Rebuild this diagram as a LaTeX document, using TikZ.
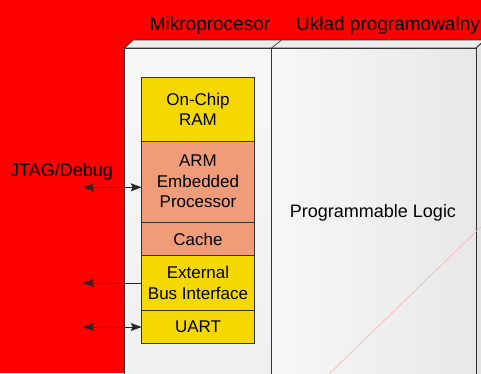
\documentclass[tikz,border=0pt]{standalone}
\usepackage{fontspec}
\setmainfont{Liberation Sans}
\usetikzlibrary{arrows.meta}
\definecolor{bgred}{HTML}{FF0000}
\definecolor{blkyellow}{HTML}{F5D800}
\definecolor{blksalmon}{HTML}{F09C78}
\definecolor{edge}{HTML}{333333}
\tikzset{
  blk/.style={draw=edge, line width=0.8pt, anchor=north west, minimum width=112.6pt,
    inner sep=0pt, outer sep=0pt, align=center,
    font=\fontsize{17}{20.5}\selectfont},
  hdr/.style={anchor=base, inner sep=0pt, font=\fontsize{19}{22}\selectfont},
  lbl/.style={anchor=base, inner sep=0pt, font=\fontsize{18}{21}\selectfont},
  conn/.style={draw=black!85, line width=0.9pt},
  bigtip/.tip={Stealth[length=11pt, width=8pt, inset=2pt]}
}
\begin{document}
\begin{tikzpicture}[x=1pt,y=-1pt]
\useasboundingbox (0,0) rectangle (481,373);
\clip (0,0) rectangle (481,373);
\fill[bgred] (0,0) rectangle (481,373);
% top face
\fill[gray!15, draw=edge, line width=0.7pt] (124.5,48) -- (133.5,40) -- (495,40) -- (485,48) -- cycle;
% right side face
\fill[gray!22, draw=edge, line width=0.7pt] (476,48) -- (486,39) -- (486,380) -- (476,380) -- cycle;
% front faces
\shade[top color=white!97!black, bottom color=white!94!black, draw=edge, line width=0.7pt]
  (124.5,48) rectangle (271.5,380);
\shade[left color=white!97!black, right color=white!91!black, draw=edge, line width=0.7pt]
  (271.5,48) rectangle (476,380);
\draw[edge, line width=0.7pt] (271.5,48) -- (281.5,40);
\draw[edge, line width=0.7pt] (476,48) -- (486,39);
\draw[red!35, line width=0.5pt] (486,222) -- (330,373);
% headers
\node[hdr] (mp) at (210,30) {Mikroprocesor};
\node[hdr] (up) at (388,30) {Układ programowalny};
\node[lbl] (pl) at (373,217) {Programmable Logic};
\node[lbl] (jtag) at (61.5,176.5) {JTAG/Debug};
% blocks
\node[blk, fill=blkyellow, minimum height=63.3pt] (ram) at (141.7,77.7) {On-Chip\\RAM};
\node[blk, fill=blksalmon, minimum height=81.3pt] (arm) at (141.7,141) {ARM\\Embedded\\Processor};
\node[blk, fill=blksalmon, minimum height=33.4pt] (cache) at (141.7,222.3) {Cache};
\node[blk, fill=blkyellow, minimum height=54.6pt] (ebi) at (141.7,255.7) {External\\Bus Interface};
\node[blk, fill=blkyellow, minimum height=33pt] (uart) at (141.7,310.3) {UART};
% connectors
\coordinate (jt) at (83,187.3);
\coordinate (eb) at (83,283);
\coordinate (ua) at (83,327);
\draw[conn, arrows={bigtip-bigtip}] (jt) -- (arm.west |- jt);
\draw[conn, arrows={-bigtip}] (ebi.west |- eb) -- (eb);
\draw[conn, arrows={bigtip-bigtip}] (ua) -- (uart.west |- ua);
\end{tikzpicture}
\end{document}
